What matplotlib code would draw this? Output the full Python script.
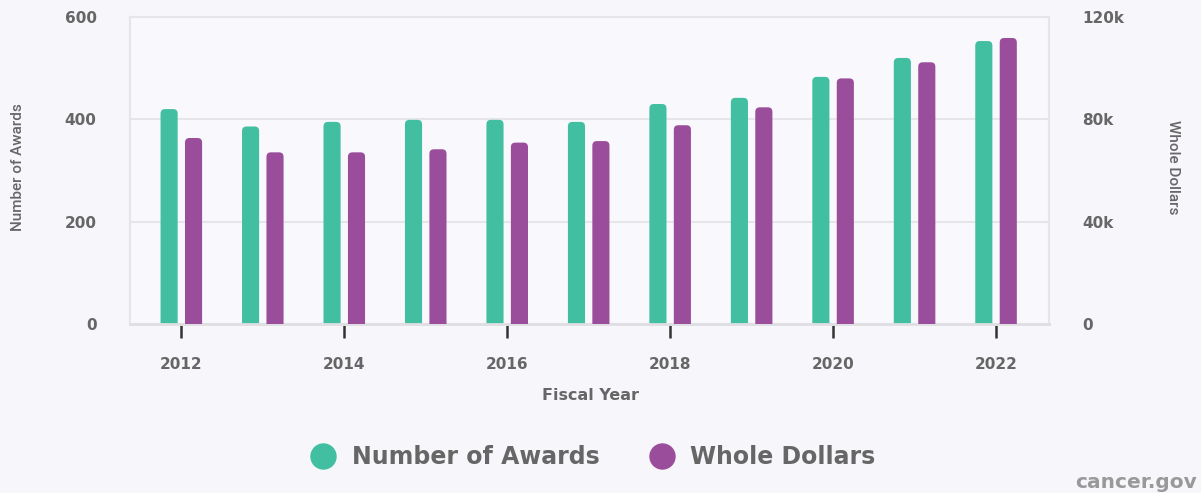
import matplotlib
matplotlib.use("Agg")
import matplotlib.pyplot as plt
from matplotlib.patches import FancyBboxPatch
from matplotlib.lines import Line2D

years = [2012, 2013, 2014, 2015, 2016, 2017, 2018, 2019, 2020, 2021, 2022]
awards = [420, 386, 395, 399, 399, 395, 430, 442, 483, 520, 553]
dollars = [72700, 67100, 67100, 68300, 70900, 71500, 77700, 84700, 96000, 102300, 111800]
xticks = [2012, 2014, 2016, 2018, 2020, 2022]
left_ticks = [0, 200, 400, 600]
right_ticks = [0, 40000, 80000, 120000]
right_labels = ["0", "40k", "80k", "120k"]

GREEN = "#41BFA0"
PURPLE = "#9A4D9A"
TXT = "#666666"
BOLDF = ['DejaVu Sans']
plt.rcParams['font.family'] = ['Roboto', 'DejaVu Sans']

W, H = 1201, 493
fig = plt.figure(figsize=(W / 100, H / 100), dpi=100, facecolor="#F6F6FB")
ax_l, ax_r, ax_b, ax_t = 130, 1049, 324, 17
ax = fig.add_axes([ax_l / W, 1 - ax_b / H, (ax_r - ax_l) / W, (ax_b - ax_t) / H])
ax.set_facecolor("#F8F8FD")
ax2 = ax.twinx()

xmin, xmax = 2011.37, 2022.65
ax.set_xlim(xmin, xmax)
ax.set_ylim(0, 600)
ax2.set_ylim(0, 120000)

bw = 0.21
off = 0.15
px_x = (ax_r - ax_l) / (xmax - xmin)
rad_px = 4.5
r = rad_px / px_x

def rounded(axis, xs, vals, color, ymax):
    px_y = (ax_b - ax_t) / ymax
    asp = px_x / px_y
    bars = axis.bar(xs, vals, width=bw, color=color)
    for b in bars:
        x, w, h = b.get_x(), b.get_width(), b.get_height()
        b.set_visible(False)
        extra = rad_px * 2 / px_y
        p = FancyBboxPatch((x + r, -extra + r * asp), w - 2 * r, h + extra - 2 * r * asp,
                           boxstyle=f"round,pad={r},rounding_size={r}",
                           mutation_aspect=asp, fc=color, ec="none", zorder=3)
        axis.add_patch(p)
        p.set_clip_path(axis.patch)

rounded(ax, [y - off for y in years], awards, GREEN, 600)
rounded(ax2, [y + off for y in years], dollars, PURPLE, 120000)

ax.set_yticks(left_ticks)
ax.set_yticklabels([str(v) for v in left_ticks])
ax2.set_yticks(right_ticks)
ax2.set_yticklabels(right_labels)
ax.yaxis.grid(True, color="#E6E6E9", lw=1.5)
ax.set_axisbelow(True)
ax.set_xticks(xticks)
ax.set_xticklabels([str(v) for v in xticks])

for a in (ax, ax2):
    for s in ("top", "left", "right"):
        a.spines[s].set_color("#E6E6E9")
        a.spines[s].set_linewidth(1.5)
    a.spines["bottom"].set_color("#E0E0E4")
    a.spines["bottom"].set_linewidth(2)
ax2.spines["top"].set_visible(False)

ax.tick_params(axis="x", length=10, width=1.8, color="#333333", pad=14,
               labelsize=11, labelcolor=TXT)
ax.tick_params(axis="y", length=0, pad=24, labelsize=11, labelcolor=TXT)
ax2.tick_params(axis="y", length=0, pad=24, labelsize=11, labelcolor=TXT)
for lbl in ax.get_xticklabels() + ax.get_yticklabels() + ax2.get_yticklabels():
    lbl.set_fontweight("bold")
    lbl.set_family(BOLDF)

fig.text(18 / W, 1 - 167 / H, "Number of Awards", rotation=90, ha="center", va="center",
         fontsize=11, color=TXT, fontweight="medium")
fig.text(1173 / W, 1 - 167 / H, "Whole Dollars", rotation=-90, ha="center", va="center",
         fontsize=11, color=TXT, fontweight="medium")
fig.text(590 / W, 1 - 395 / H, "Fiscal Year", ha="center", va="center",
         fontsize=11.5, color=TXT, fontweight="bold", family=BOLDF)

handles = [Line2D([], [], ls="none", marker="o", ms=18, mfc=GREEN, mec=GREEN),
           Line2D([], [], ls="none", marker="o", ms=18, mfc=PURPLE, mec=PURPLE)]
leg = fig.legend(handles, ["Number of Awards", "Whole Dollars"], loc="center",
                 bbox_to_anchor=(593 / W, 1 - 457 / H), ncol=2, frameon=False,
                 prop={"size": 17, "weight": "bold", "family": BOLDF}, handletextpad=0.65,
                 columnspacing=2.1, handlelength=1.1)
for t in leg.get_texts():
    t.set_color(TXT)

fig.text(1197 / W, 1 - 483 / H, "cancer.gov", ha="right", va="center",
         fontsize=14.5, color="#999999", fontweight="bold", family=BOLDF)

fig.savefig("out.png", dpi=100, facecolor=fig.get_facecolor())
